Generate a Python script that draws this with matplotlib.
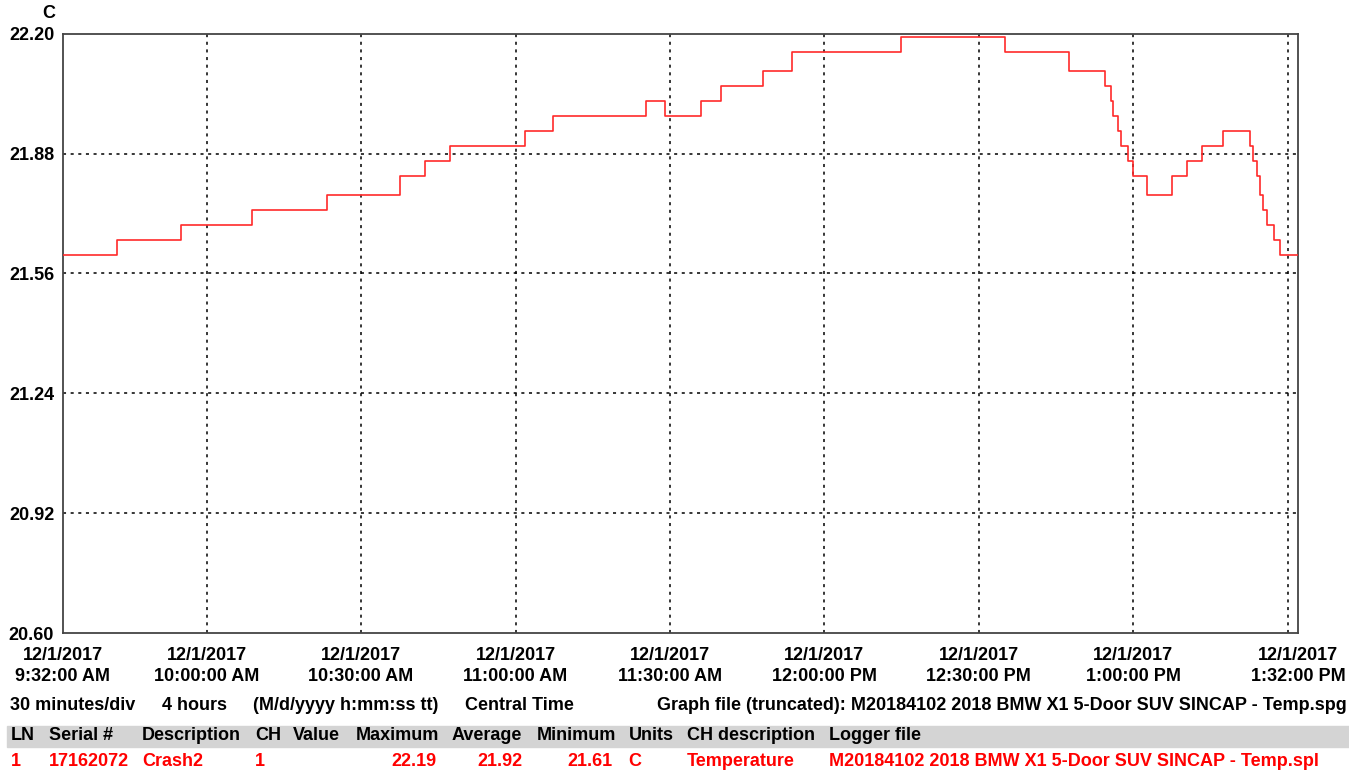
import pandas as pd
import matplotlib
matplotlib.use("Agg")
import matplotlib.pyplot as plt
from matplotlib.patches import Rectangle

# logger readings (value holds from this time until the next one)
times = ["09:32:00", "09:42:30", "09:55:00", "10:08:48", "10:23:18", "10:37:30",
         "10:42:24", "10:47:12", "11:01:48", "11:07:12", "11:25:24", "11:29:06",
         "11:36:00", "11:40:00", "11:48:06", "11:53:42", "12:14:54", "12:35:00",
         "12:47:30", "12:54:36", "12:55:36", "12:56:06", "12:57:06", "12:57:42",
         "12:58:54", "12:59:54", "13:02:42", "13:07:36", "13:10:24", "13:13:18",
         "13:17:30", "13:22:42", "13:23:12", "13:24:00", "13:24:42", "13:25:12",
         "13:26:00", "13:27:18", "13:28:36", "13:32:00"]
temps = [21.61, 21.65, 21.69, 21.73, 21.77, 21.82,
         21.86, 21.90, 21.94, 21.98, 22.02, 21.98,
         22.02, 22.06, 22.10, 22.15, 22.19, 22.15,
         22.10, 22.06, 22.02, 21.98, 21.94, 21.90,
         21.86, 21.82, 21.77, 21.82, 21.86, 21.90,
         21.94, 21.90, 21.86, 21.82, 21.77, 21.73,
         21.69, 21.65, 21.61, 21.61]

y_ticks = [20.60, 20.92, 21.24, 21.56, 21.88, 22.20]
label_times = ["09:32", "10:00", "10:30", "11:00", "11:30", "12:00", "12:30", "13:00", "13:32"]
label_text = ["9:32:00 AM", "10:00:00 AM", "10:30:00 AM", "11:00:00 AM", "11:30:00 AM",
              "12:00:00 PM", "12:30:00 PM", "1:00:00 PM", "1:32:00 PM"]
grid_times = ["10:00", "10:30", "11:00", "11:30", "12:00", "12:30", "13:00", "13:30"]

headers = ["LN", "Serial #", "Description", "CH", "Value", "Maximum", "Average",
           "Minimum", "Units", "CH description", "Logger file"]
row = ["1", "17162072", "Crash2", "1", "", "22.19", "21.92", "21.61", "C",
       "Temperature", "M20184102 2018 BMW X1 5-Door SUV SINCAP - Temp.spl"]

day = "2017-12-01 "
x = pd.to_datetime([day + t for t in times])

plt.rcParams['font.family'] = ['Liberation Sans', 'DejaVu Sans']
plt.rcParams['font.weight'] = 'bold'
fs = 13

W, H = 1349, 775
fig = plt.figure(figsize=(W / 100, H / 100), dpi=100)
ax = fig.add_axes([62.5 / W, 1 - 633 / H, (1298 - 62.5) / W, (633 - 33.7) / H])

ax.step(x, temps, where='post', color='#ff2a2a', lw=1.2, zorder=3)

ax.set_xlim(pd.Timestamp(day + "09:32"), pd.Timestamp(day + "13:32"))
ax.set_ylim(20.60, 22.20)
ax.set_yticks(y_ticks)
ax.set_yticklabels(["%.2f" % v for v in y_ticks], fontsize=fs, fontweight='bold')

ax.set_xticks(pd.to_datetime([day + t for t in label_times]))
ax.set_xticklabels(["12/1/2017\n" + s for s in label_text], fontsize=fs,
                   fontweight='bold', linespacing=1.3)
ax.tick_params(axis='both', which='both', length=0)
ax.tick_params(axis='x', pad=10)
ax.tick_params(axis='y', pad=6)

dots = (0, (2, 3))
for t in grid_times:
    ax.axvline(pd.Timestamp(day + t), color='black', lw=1.1, ls=dots, zorder=1)
for v in y_ticks[1:-1]:
    ax.axhline(v, color='black', lw=1.1, ls=dots, zorder=1)

for s in ax.spines.values():
    s.set_color('#444444')
    s.set_linewidth(1.3)

fig.text(49 / W, 1 - 14 / H, "C", fontsize=fs, fontweight='bold', ha='center', va='center')

# info line
info = [(10, "30 minutes/div"), (162, "4 hours"), (253, "(M/d/yyyy h:mm:ss tt)"),
        (465, "Central Time"),
        (657, "Graph file (truncated): M20184102 2018 BMW X1 5-Door SUV SINCAP - Temp.spg")]
for px, s in info:
    fig.text(px / W, 1 - 706 / H, s, fontsize=fs, fontweight='bold', va='center')

# table
fig.patches.append(Rectangle((7 / W, 1 - 747 / H), (W - 7) / W, 21 / H,
                             transform=fig.transFigure, color='#d4d4d4', zorder=0))
hx = [11, 49, 142, 255, 293, 356, 452, 537, 629, 687, 829]
for px, s in zip(hx, headers):
    fig.text(px / W, 1 - 736 / H, s, fontsize=fs, fontweight='bold', va='center')

rx = [11, 49, 142, 255, 293, 437, 522, 613, 628, 687, 829]
right = {5, 6, 7}
for i, (px, s) in enumerate(zip(rx, row)):
    fig.text(px / W, 1 - 762 / H, s, fontsize=fs, fontweight='bold', va='center',
             color='#ff0000', ha='right' if i in right else 'left')

fig.savefig("out.png", dpi=100)
